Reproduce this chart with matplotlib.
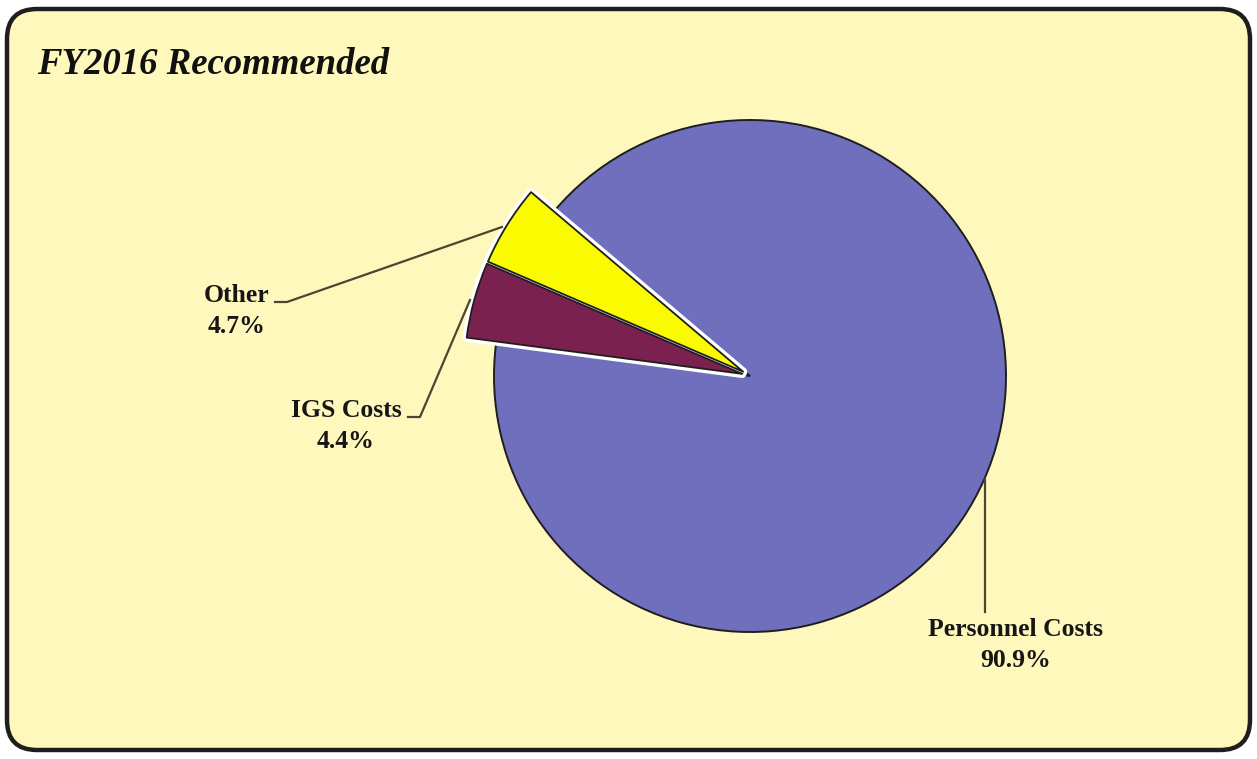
import matplotlib

matplotlib.use("Agg")
import matplotlib.pyplot as plt
from matplotlib.patches import FancyBboxPatch, Wedge

W, H = 1257, 759

# data
labels = ["Personnel Costs", "Other", "IGS Costs"]
shares = [90.9, 4.7, 4.4]
colors = ["#6f6fbd", "#fafa00", "#7b2150"]
title = "FY2016 Recommended"

BG = "#fff8bd"
EDGE = "#1e1e1e"

plt.rcParams["font.family"] = ["Liberation Serif", "DejaVu Serif"]

fig = plt.figure(figsize=(W / 100, H / 100), dpi=100)
fig.patch.set_facecolor("white")
ax = fig.add_axes([0, 0, 1, 1])

# rounded panel
panel = FancyBboxPatch((7, 9), W - 14, H - 18,
                       boxstyle="round,pad=0,rounding_size=30",
                       fc=BG, ec=EDGE, lw=3.2, zorder=0)
ax.add_patch(panel)

cx, cy, r = 750, H - 376, 256
wedges, _ = ax.pie(shares, colors=colors, startangle=172.5, counterclock=True,
                   center=(cx, cy), radius=r, explode=[0, 8, 8],
                   wedgeprops=dict(edgecolor=EDGE, linewidth=1.4))
wedges[0].set_zorder(2)
for w in wedges[1:]:
    w.set_radius(r * 1.086)
    w.set_zorder(4)
    w.set_linewidth(1.3)
    w.set_joinstyle("round")
    halo = Wedge(w.center, w.r, w.theta1, w.theta2, fc="none",
                 ec="white", lw=6, zorder=3, joinstyle="round")
    ax.add_patch(halo)

ax.set_xlim(0, W)
ax.set_ylim(0, H)
ax.set_aspect("equal")
ax.axis("off")

# title
ax.text(37, H - 64, title, fontsize=26.5, fontweight="bold", fontstyle="italic",
        ha="left", va="center", color="#111111")

# labels with leader lines
lab_kw = dict(fontsize=18.5, fontweight="bold", ha="center", va="center",
              color="#161616", linespacing=1.4)
line_kw = dict(color="#4a4630", lw=1.6, zorder=5)

ax.text(237, H - 311, f"{labels[1]}\n{shares[1]:.1f}%", **lab_kw)
ax.plot([275, 287, 502], [H - 302, H - 302, H - 227], **line_kw)

ax.text(346, H - 426, f"{labels[2]}\n{shares[2]:.1f}%", **lab_kw)
ax.plot([408, 420, 470], [H - 417, H - 417, H - 300], **line_kw)

ax.text(1016, H - 645, f"{labels[0]}\n{shares[0]:.1f}%", **lab_kw)
ax.plot([985, 985], [H - 480, H - 612], **line_kw)

fig.savefig("out.png", dpi=100, facecolor=fig.get_facecolor())
